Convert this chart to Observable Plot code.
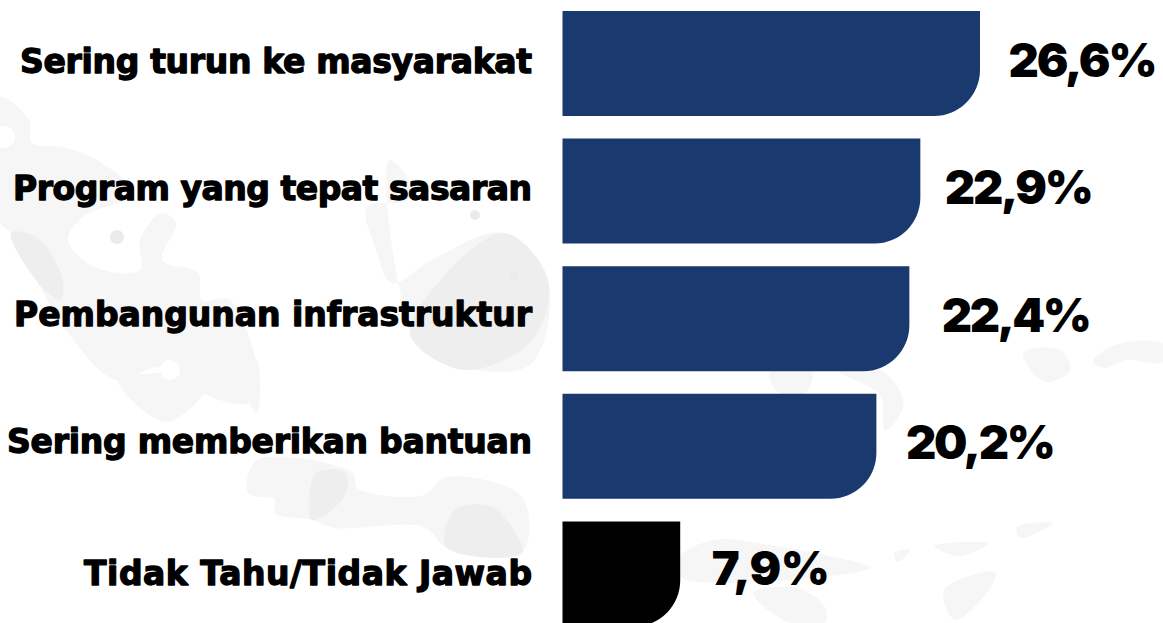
<!DOCTYPE html>
<html>
<head>
<meta charset="utf-8">
<script src="https://cdn.jsdelivr.net/npm/d3@7"></script>
<script src="https://cdn.jsdelivr.net/npm/@observablehq/plot@0.6"></script>
<style>
html,body{margin:0;padding:0;background:#fff;overflow:hidden}
svg{display:block}
</style>
</head>
<body>
<div id="chart"></div>
<script>
const categories = ["Sering turun ke masyarakat","Program yang tepat sasaran","Pembangunan infrastruktur","Sering memberikan bantuan","Tidak Tahu/Tidak Jawab"];
const barLengths = [26.6,22.8,22.1,20.0,7.5];
const valueLabels = ["26,6%","22,9%","22,4%","20,2%","7,9%"];
const barColors = ["#1a3a6f","#1a3a6f","#1a3a6f","#1a3a6f","#000000"];
const rows = categories.map((c,i)=>({c,v:barLengths[i],l:valueLabels[i],f:barColors[i]}));

// Decorative pale map behind the chart (not data)
const lightShapes = [
  [[0,97],[29,120],[32,143],[62,147],[97,160],[133,193],[83,217],[68,240],[94,267],[140,270],[140,240],[162,213],[176,223],[162,260],[198,273],[202,300],[230,300],[258,400],[219,400],[162,367],[116,380],[68,333],[36,280],[8,230],[0,223]],
  [[389,160],[407,177],[408,200],[367,207],[375,247],[392,283],[432,260],[504,233],[548,280],[532,363],[478,370],[418,340]],
  [[248,493],[257,460],[353,473],[357,488],[424,495],[446,477],[522,497],[522,553],[446,547],[424,527],[335,528],[312,520],[275,513],[275,500]],
  [[118,380],[167,422],[210,380]],
  [[241,380],[257,413],[257,360]],
  [[1023,353],[1060,350],[1070,370],[1045,382]],
  [[1093,362],[1115,345],[1163,344],[1163,362],[1125,360],[1105,368]],
  [[770,372],[812,372],[806,392],[778,392]],
  [[840,372],[880,370],[903,398],[900,415],[885,430],[880,395]],
  [[1017,527],[1053,523],[1020,538]],
  [[894,553],[910,550],[898,562]],
  [[934,546],[988,543],[960,556]],
  [[944,590],[995,572],[993,584],[955,620]],
  [[753,593],[797,588],[825,607],[825,623],[790,623]],
  [[680,557],[713,540],[757,543],[870,568],[680,577]]
];
const darkShapes = [
  [[11,233],[36,237],[62,277],[60,300],[36,280]],
  [[504,233],[548,280],[532,340],[464,370],[410,335],[432,290]],
  [[316,473],[346,473],[344,497],[312,520]],
  [[446,547],[522,553],[492,507],[455,510]]
];
const holes = [[4,137,11],[170,370,10],[400,240,7]];
const paleHoles = [[117,237,7],[475,215,5],[514,277,5]];

const watermark = () => {
  const ns = "http://www.w3.org/2000/svg";
  const g = document.createElementNS(ns,"g");
  const path = d3.line().curve(d3.curveCatmullRomClosed.alpha(0.5));
  const add = (pts,fill) => {
    const p = document.createElementNS(ns,"path");
    p.setAttribute("d",path(pts)); p.setAttribute("fill",fill); g.append(p);
  };
  const dot = ([x,y,r],fill) => {
    const c = document.createElementNS(ns,"circle");
    c.setAttribute("cx",x);c.setAttribute("cy",y);c.setAttribute("r",r);c.setAttribute("fill",fill);g.append(c);
  };
  lightShapes.forEach(s=>add(s,"#f6f6f6"));
  darkShapes.forEach(s=>add(s,"#eeeeee"));
  holes.forEach(h=>dot(h,"#ffffff"));
  paleHoles.forEach(h=>dot(h,"#ebebeb"));
  return g;
};

// Per-row nudges and measured widths of the text
const labelDy = [-2,-2,-4,-4,0];
const valueDy = [-2,-3,-2,-3,-4];
const valueDx = [28,24,32,29,31];
const labelWidths = [512,519,518,525,448];
const valueWidths = [149,149,150,150,118];
const labelStyle = {fontSize:33,fontWeight:"bold",fontFamily:"DejaVu Sans",fill:"#000",stroke:"#000",strokeWidth:1.3,textAnchor:"end"};
const valueStyle = {fontSize:47,fontWeight:900,fontFamily:"Inter",fill:"#000",textAnchor:"start"};

const chart = Plot.plot({
  width:1163,height:623,margin:0,
  style:{background:"transparent",overflow:"hidden"},
  x:{domain:[0,38.26],range:[562.5,1163],axis:null},
  y:{domain:categories,range:[11,626.4],paddingInner:0.177,paddingOuter:0,round:false,axis:null},
  marks:[
    watermark,
    Plot.barX(rows,{y:"c",x:"v",fill:"f",rx2y2:46}),
    ...rows.map((r,i)=>Plot.text([r],{y:"c",text:"c",x:0,dx:-31,dy:labelDy[i],...labelStyle})),
    ...rows.map((r,i)=>Plot.text([r],{y:"c",x:"v",text:"l",dx:valueDx[i],dy:valueDy[i],...valueStyle}))
  ]
});
const widths = [...labelWidths,...valueWidths];
d3.select(chart).selectAll("text").each(function(d,i){
  this.setAttribute("textLength",widths[i]);
  this.setAttribute("lengthAdjust","spacing");
});
document.getElementById("chart").append(chart);
</script>
</body>
</html>
